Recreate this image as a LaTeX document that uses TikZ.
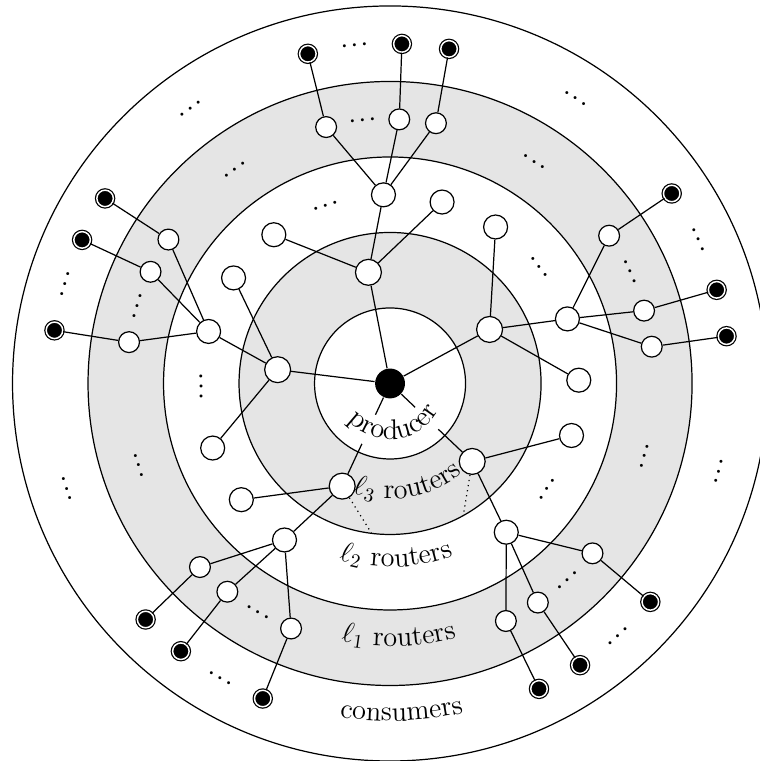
\documentclass[tikz,border=0pt]{standalone}
\usetikzlibrary{decorations.text}
\begin{document}
\begin{tikzpicture}[scale=1.35,line width=0.62pt,
  prodnode/.style={circle,fill=black,minimum size=15.2pt,inner sep=0pt},
  lthree/.style={circle,draw,fill=white,minimum size=13.2pt,inner sep=0pt},
  ltwo/.style={lthree,minimum size=12.2pt},
  lone/.style={lthree,minimum size=10.6pt},
  consumer/.style={circle,draw,double,double distance=0.75pt,fill=black,minimum size=8.4pt,inner sep=0pt},
  more/.style={inner sep=0pt,font=\boldmath},
  ringlabel/.style={decorate,decoration={text along path,text align=center,text={#1}}}]
\useasboundingbox (-5.166,-5.0) rectangle (4.887,5.079);
\draw[fill=white] (0,0) circle[radius=5];
\draw[fill=gray!20] (0,0) circle[radius=4];
\draw[fill=white] (0,0) circle[radius=3];
\draw[fill=gray!20] (0,0) circle[radius=2];
\draw[fill=white] (0,0) circle[radius=1];
\node[prodnode] (prod) at (0,0) {};
\node[lthree] (r3a) at (101:1.5) {};
\node[lthree] (r3b) at (173:1.5) {};
\node[lthree] (r3c) at (28.5:1.5) {};
\node[lthree] (r3d) at (-43.5:1.5) {};
\node[lthree] (r3e) at (245:1.5) {};
\foreach \n in {r3a,r3b,r3c,r3d,r3e} \draw (prod) -- (\n);
\node[ltwo] (r2a) at (92:2.5) {};
\node[ltwo] (r2b) at (164:2.5) {};
\node[ltwo] (r2c) at (20:2.5) {};
\node[ltwo] (r2d) at (-52:2.5) {};
\node[ltwo] (r2e) at (236:2.5) {};
\draw (r3a) -- (r2a) (r3b) -- (r2b) (r3c) -- (r2c) (r3d) -- (r2d) (r3e) -- (r2e);
\foreach \p/\a [count=\i] in {r3a/74,r3a/128,r3b/146,r3b/200,r3c/56,r3c/1,r3d/-16,r3e/218} {
  \node[ltwo] (leaf\i) at (\a:2.5) {};
  \draw (\p) -- (leaf\i);
}
\foreach \p/\angs in {r2a/{104,88,80},r2b/{147,155,171},r2c/{34,16,8},r2d/{-40,-56,-64},r2e/{224,232,248}}
  \foreach \a [count=\i] in \angs {
    \node[lone] (\p-\i) at (\a:3.5) {};
    \node[consumer] (\p-c\i) at (\a:4.5) {};
    \draw (\p) -- (\p-\i) -- (\p-c\i);
  }
\coordinate (d1) at (263:2);
\coordinate (d2) at (299:2);
\draw[dotted] (r3e) -- (d1) (r3d) -- (d2);
\fill[white] (226:0.46) arc[start angle=226,end angle=334,radius=0.46] -- (334:0.88) arc[start angle=334,end angle=226,radius=0.88] -- cycle;
\path[ringlabel={|\Large|producer}] (206:0.74) arc[start angle=206,end angle=346,radius=0.74];
\path[ringlabel={|\Large|{$\ell_3$} routers}] (240:1.53) arc[start angle=240,end angle=320,radius=1.53];
\path[ringlabel={|\Large|{$\ell_2$} routers}] (242:2.43) arc[start angle=242,end angle=302,radius=2.43];
\path[ringlabel={|\Large|{$\ell_1$} routers}] (252:3.48) arc[start angle=252,end angle=292,radius=3.48];
\path[ringlabel={|\Large|consumers}] (257:4.47) arc[start angle=257,end angle=287,radius=4.47];
\foreach \a/\r [count=\i] in {110/2.5,38/2.5,181/2.5,-34/2.5,
  96/3.5,126/3.5,57/3.5,163/3.5,25/3.5,198/3.5,-16/3.5,-48/3.5,240/3.5,
  96/4.5,126/4.5,57/4.5,163/4.5,25/4.5,198/4.5,-15/4.5,-48/4.5,240/4.5}
  \node[more,rotate=\a-90] (dots\i) at (\a:\r) {$\cdots$};
\end{tikzpicture}
\end{document}
